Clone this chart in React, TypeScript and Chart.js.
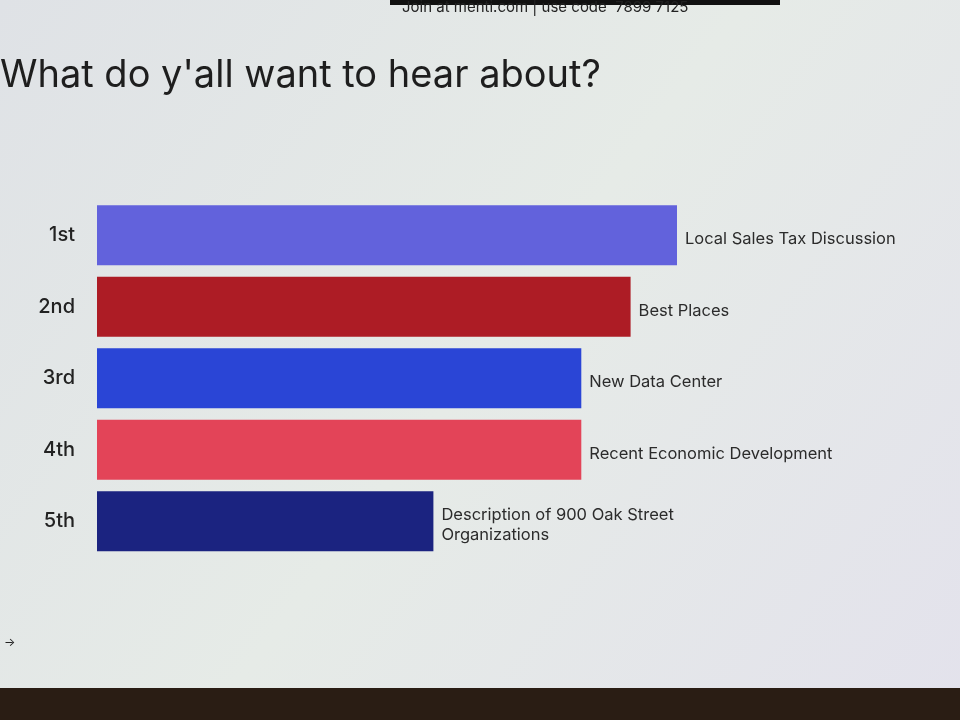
import React, { useEffect, useRef } from "react";
import { Chart, registerables } from "chart.js";

Chart.register(...registerables);

const ranks = ["1st", "2nd", "3rd", "4th", "5th"];
const topics = [
  ["Local Sales Tax Discussion"],
  ["Best Places"],
  ["New Data Center"],
  ["Recent Economic Development"],
  ["Description of 900 Oak Street", "Organizations"],
];
const scores = [100, 92, 83.5, 83.5, 58];
const barColors = ["#6262dc", "#ad1c25", "#2a45d6", "#e34458", "#1b2380"];

const FONT = "Inter, 'Open Sans', 'DejaVu Sans', sans-serif";

const backdrop = {
  id: "backdrop",
  beforeDraw(chart: any) {
    const { ctx, width, height } = chart;
    ctx.save();
    const g = ctx.createLinearGradient(0, 0, width, height);
    g.addColorStop(0, "#dfe2e6");
    g.addColorStop(0.5, "#e6ebe7");
    g.addColorStop(1, "#e3e2ec");
    ctx.fillStyle = g;
    ctx.fillRect(0, 0, width, height);
    ctx.fillStyle = "#2a1d14";
    ctx.fillRect(0, 688, width, height - 688);
    ctx.fillStyle = "#111";
    ctx.fillRect(390, 0, 390, 5);
    ctx.fillStyle = "#222";
    ctx.font = `15px ${FONT}`;
    ctx.textBaseline = "middle";
    ctx.fillText("Join at menti.com | use code  7899 7125", 402, 7);
    ctx.font = `12px ${FONT}`;
    ctx.fillText("→", 4, 642);
    ctx.restore();
  },
};

const endLabels = {
  id: "endLabels",
  afterDatasetsDraw(chart: any) {
    const { ctx } = chart;
    const meta = chart.getDatasetMeta(0);
    ctx.save();
    ctx.font = `16.5px ${FONT}`;
    ctx.fillStyle = "#2b2b2b";
    ctx.textBaseline = "middle";
    meta.data.forEach((bar: any, i: number) => {
      const lines = topics[i];
      const lh = 20;
      const y0 = bar.y + 4 - ((lines.length - 1) * lh) / 2;
      lines.forEach((t, j) => ctx.fillText(t, bar.x + 8, y0 + j * lh));
    });
    ctx.restore();
  },
};

export default function App() {
  const ref = useRef<HTMLCanvasElement>(null);
  useEffect(() => {
    document.body.style.margin = "0";
    const chart = new Chart(ref.current!, {
      type: "bar",
      data: {
        labels: ranks,
        datasets: [
          {
            data: scores,
            backgroundColor: barColors,
            borderWidth: 0,
            barPercentage: 0.84,
            categoryPercentage: 1,
          },
        ],
      },
      options: {
        indexAxis: "y",
        animation: false,
        responsive: false,
        layout: { padding: { left: 0, right: 283, top: 0, bottom: 163 } },
        plugins: {
          legend: { display: false },
          tooltip: { enabled: false },
          title: {
            display: true,
            text: "What do y'all want to hear about?",
            align: "start",
            color: "#1e1e1e",
            font: { size: 38, family: FONT, weight: "normal" },
            padding: { top: 53, bottom: 101 },
          },
        },
        scales: {
          x: { display: false, min: 0, max: 100 },
          y: {
            grid: { display: false },
            border: { display: false },
            afterFit(scale: any) {
              scale.width = 97;
            },
            ticks: {
              color: "#222",
              padding: 14,
              font: { size: 20, family: FONT, weight: 500 },
            },
          },
        },
      },
      plugins: [backdrop, endLabels],
    });
    return () => chart.destroy();
  }, []);
  return <canvas ref={ref} width={960} height={720} style={{ display: "block" }} />;
}
